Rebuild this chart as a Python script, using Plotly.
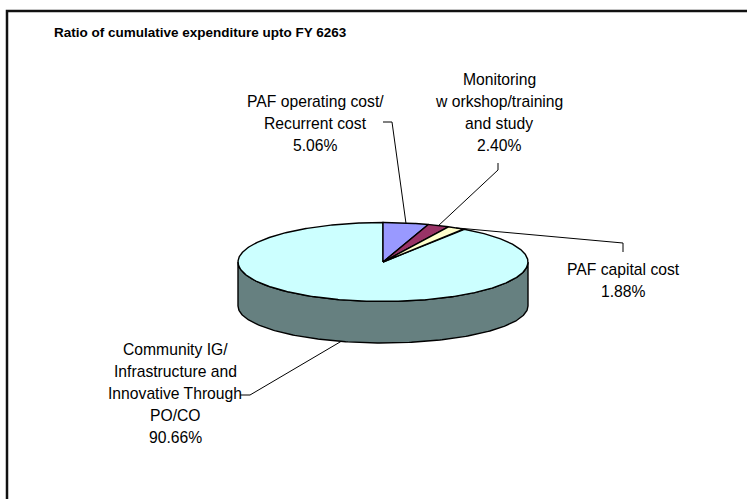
import numpy as np
import plotly.graph_objects as go

# ---- data ----
categories = [
    "PAF operating cost/ Recurrent cost",
    "Monitoring workshop/training and study",
    "PAF capital cost",
    "Community IG/ Infrastructure and Innovative Through PO/CO",
]
values = [5.06, 2.40, 1.88, 90.66]
label_lines = [
    ["PAF operating cost/", "Recurrent cost"],
    ["Monitoring", "w orkshop/training", "and study"],
    ["PAF capital cost"],
    ["Community IG/", "Infrastructure and", "Innovative Through", "PO/CO"],
]
colors = ["#9999FF", "#993366", "#FFFFCC", "#CCFFFF"]
side_color = "#668080"
title_text = "Ratio of cumulative expenditure upto FY 6263"

# ---- geometry / style ----
W, H = 747, 499
cx, cy, rx, ry = 383.0, 262.0, 145.0, 39.5
cyb, ryb = 306.0, 37.0  # bottom rim ellipse
FONT = "Liberation Sans, Arial, sans-serif"
line_gap = 22
# label layout: (center x, y of last line (percent), elbow point, end point)
label_layout = [
    dict(x=315, y_last=145, elbow=(392, 122), end=(383, 122), rim="top"),
    dict(x=499, y_last=145, elbow=(498, 170), end=(498, 163), rim="top"),
    dict(x=623, y_last=291, elbow=(623, 243), end=(623, 252), rim="top"),
    dict(x=175, y_last=437, elbow=(250, 395), end=(240, 395), rim="bottom"),
]

total = sum(values)
bounds = np.cumsum([0] + values) / total * 360.0


def top_pt(theta_deg):
    t = np.radians(theta_deg)
    return cx + rx * np.sin(t), cy - ry * np.cos(t)


def bot_pt(theta_deg):
    t = np.radians(theta_deg)
    return cx + rx * np.sin(t), cyb - ryb * np.cos(t)


fig = go.Figure()

# side wall (front half, belongs to the big slice)
th = np.linspace(90, 270, 200)
tx, ty = top_pt(th)
bx, by = bot_pt(th[::-1])
fig.add_trace(go.Scatter(
    x=np.concatenate([tx, bx, tx[:1]]), y=np.concatenate([ty, by, ty[:1]]),
    fill="toself", fillcolor=side_color, mode="lines",
    line=dict(color="black", width=1.4), hoverinfo="skip", showlegend=False))

# top slices (big one first)
order = [3, 0, 1, 2]
for i in order:
    a0, a1 = bounds[i], bounds[i + 1]
    n = max(4, int((a1 - a0) * 2))
    th = np.linspace(a0, a1, n)
    px, py = top_pt(th)
    xs = np.concatenate([[cx], px, [cx]])
    ys = np.concatenate([[cy], py, [cy]])
    fig.add_trace(go.Scatter(
        x=xs, y=ys, fill="toself", fillcolor=colors[i], mode="lines",
        line=dict(color="black", width=1.4), name=categories[i],
        hoverinfo="name", showlegend=False))

# leader lines and labels
annotations = []
for i, lay in enumerate(label_layout):
    mid = (bounds[i] + bounds[i + 1]) / 2
    sx, sy = top_pt(mid) if lay["rim"] == "top" else bot_pt(mid)
    fig.add_trace(go.Scatter(
        x=[sx, lay["elbow"][0], lay["end"][0]],
        y=[sy, lay["elbow"][1], lay["end"][1]],
        mode="lines", line=dict(color="black", width=1),
        hoverinfo="skip", showlegend=False))
    lines = label_lines[i] + [f"{values[i]:.2f}%"]
    n = len(lines)
    for k, txt in enumerate(lines):
        annotations.append(dict(
            x=lay["x"], y=lay["y_last"] - (n - 1 - k) * line_gap,
            xref="x", yref="y", text=txt, showarrow=False,
            xanchor="center", yanchor="middle",
            font=dict(family=FONT, size=15.7, color="black")))

annotations.append(dict(
    x=52, y=32, xref="x", yref="y", text=f"<b>{title_text}</b>",
    showarrow=False, xanchor="left", yanchor="middle",
    font=dict(family=FONT, size=13.5, color="black")))

fig.update_layout(
    width=W, height=H, autosize=False,
    margin=dict(l=0, r=0, t=0, b=0),
    paper_bgcolor="white", plot_bgcolor="white",
    xaxis=dict(range=[0, W], visible=False, fixedrange=True),
    yaxis=dict(range=[H, 0], visible=False, fixedrange=True),
    annotations=annotations,
    shapes=[dict(type="rect", xref="x", yref="y", x0=7, y0=11, x1=W + 40, y1=H + 40,
                 line=dict(color="#111111", width=2.5), fillcolor="rgba(0,0,0,0)")],
)

fig.write_html(
    "out.html",
    config={"displayModeBar": False},
    post_script="document.body.style.margin='0px';document.body.style.overflow='hidden';",
)
